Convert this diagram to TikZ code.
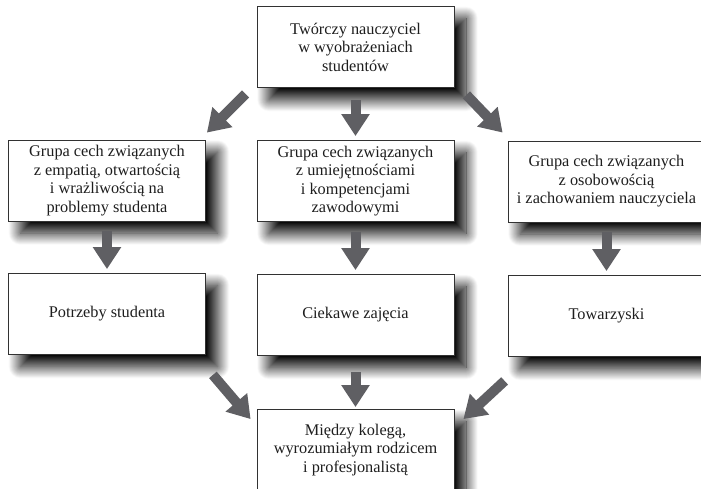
\documentclass[tikz,border=0pt]{standalone}
\usepackage{fontspec}
\setmainfont{Liberation Serif}
\usetikzlibrary{arrows.meta,shadows.blur}
\definecolor{arrowgray}{RGB}{95,95,99}
\definecolor{boxline}{RGB}{50,50,50}
\definecolor{textcol}{RGB}{30,30,30}
\begin{document}
\begin{tikzpicture}[x=1pt,y=-1pt,
  box/.style={draw=boxline, line width=0.8pt, fill=white, text=textcol,
    minimum width=197pt, minimum height=81pt, align=center,
    font=\fontsize{16.3}{18.5}\selectfont, inner sep=0pt,
    blur shadow={shadow xshift=12pt, shadow yshift=-12pt,
      shadow blur radius=12pt, shadow blur steps=24, shadow opacity=100}},
  bigarrow/.style={draw=arrowgray, line width=10pt,
    -{Triangle[width=27pt,length=22pt]}}]
\useasboundingbox (0,0) rectangle (701,489);
\node[box] (top) at (355.5,47) {Twórczy nauczyciel\\w wyobrażeniach\\studentów};
\node[box] (l2) at (107,180.5) {Grupa cech związanych\\z empatią, otwartością\\i wrażliwością na\\problemy studenta};
\node[box] (m2) at (355.5,181) {Grupa cech związanych\\z umiejętnościami\\i kompetencjami\\zawodowymi};
\node[box] (r2) at (606.5,181.5) {Grupa cech związanych\\z osobowością\\i zachowaniem nauczyciela};
\node[box] (l3) at (107,314) {Potrzeby studenta};
\node[box] (m3) at (355.5,315) {Ciekawe zajęcia};
\node[box] (r3) at (606.5,316) {Towarzyski};
\node[box] (bot) at (355.5,450) {Między kolegą,\\wyrozumiałym rodzicem\\i profesjonalistą};
% top arrows
\draw[bigarrow] ([xshift=-11pt,yshift=-6pt]top.south west) -- ([xshift=1pt,yshift=7pt]l2.north east);
\draw[bigarrow] ([yshift=-12pt]top.south) -- ([yshift=4pt]m2.north);
\draw[bigarrow] ([xshift=12pt,yshift=-7pt]top.south east) -- ([xshift=-5pt,yshift=8pt]r2.north west);
% middle arrows
\draw[bigarrow] ([yshift=-10pt]l2.south) -- ([yshift=4pt]l3.north);
\draw[bigarrow] ([yshift=-10pt]m2.south) -- ([yshift=4pt]m3.north);
\draw[bigarrow] ([yshift=-10pt]r2.south) -- ([yshift=4pt]r3.north);
% bottom arrows
\draw[bigarrow] ([xshift=7pt,yshift=-20pt]l3.south east) -- ([xshift=-6pt,yshift=-10pt]bot.north west);
\draw[bigarrow] ([yshift=-16pt]m3.south) -- ([yshift=2pt]bot.north);
\draw[bigarrow] ([xshift=-3pt,yshift=-24pt]r3.south west) -- ([xshift=9pt,yshift=-10pt]bot.north east);
\end{tikzpicture}
\end{document}
